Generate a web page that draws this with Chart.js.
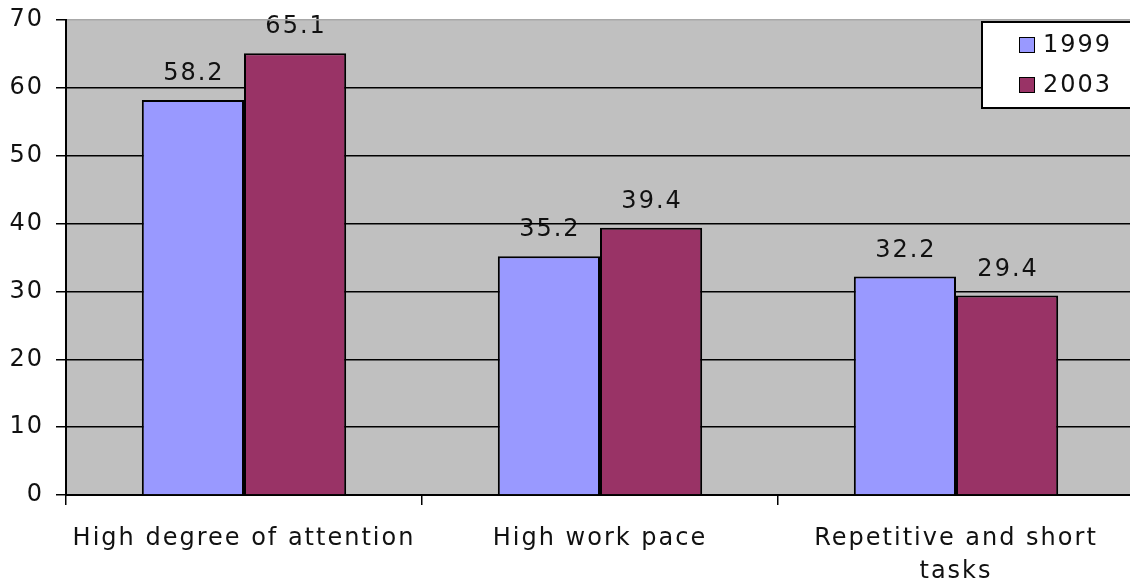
<!DOCTYPE html>
<html>
<head>
<meta charset="utf-8">
<script src="https://cdn.jsdelivr.net/npm/chart.js@4.4.1/dist/chart.umd.min.js"></script>
<style>
  html, body { margin: 0; padding: 0; background: #fff; overflow: hidden; }
  #wrap { width: 1134px; height: 586px; }
</style>
</head>
<body>
<div id="wrap"><canvas id="c"></canvas></div>
<script>
// Survey shares (%) of workers reporting each condition
const categories = ['High degree of attention', 'High work pace', ['Repetitive and short', 'tasks']];
const seriesNames = ['1999', '2003'];
const values1999 = [58.2, 35.2, 32.2];
const values2003 = [65.1, 39.4, 29.4];
const yTicks = [0, 10, 20, 30, 40, 50, 60, 70];

const colors = ['#9999FF', '#993366'];
const FONT = 'DejaVu Sans';
const SPACING = '2px';

Chart.defaults.font.family = FONT;
Chart.defaults.font.size = 24;
Chart.defaults.color = '#111';

// Wide, bitmap-like lettering for all canvas text
const spacingPlugin = {
  id: 'spacing',
  beforeUpdate(chart) { chart.ctx.letterSpacing = SPACING; },
  beforeLayout(chart) { chart.ctx.letterSpacing = SPACING; },
  beforeDraw(chart) { chart.ctx.letterSpacing = SPACING; }
};

// Grey plot area, then the value labels (gridlines are drawn over them)
const plotAreaPlugin = {
  id: 'plotArea',
  beforeDraw(chart) {
    const { ctx, chartArea: a } = chart;
    ctx.save();
    ctx.fillStyle = '#C0C0C0';
    ctx.fillRect(a.left, a.top, a.right - a.left, a.bottom - a.top);
    ctx.font = `24px "${FONT}"`;
    ctx.fillStyle = '#111';
    ctx.textAlign = 'center';
    ctx.textBaseline = 'alphabetic';
    chart.data.datasets.forEach((ds, i) => {
      chart.getDatasetMeta(i).data.forEach((bar, j) => {
        ctx.fillText(ds.data[j].toFixed(1), bar.x + 1, bar.y - 20);
      });
    });
    ctx.restore();
  }
};

// Boxed legend in the upper right corner
const boxLegendPlugin = {
  id: 'boxLegend',
  afterDraw(chart) {
    const { ctx } = chart;
    ctx.save();
    ctx.fillStyle = '#fff';
    ctx.fillRect(982, 22, 170, 86);
    ctx.strokeStyle = '#000';
    ctx.lineWidth = 2;
    ctx.strokeRect(982, 22, 170, 86);
    ctx.font = `24px "${FONT}"`;
    ctx.textAlign = 'left';
    ctx.textBaseline = 'middle';
    chart.data.datasets.forEach((ds, i) => {
      const cy = 45 + i * 40;
      ctx.fillStyle = ds.backgroundColor;
      ctx.fillRect(1019, cy - 8, 16, 16);
      ctx.lineWidth = 1;
      ctx.strokeRect(1019.5, cy - 7.5, 15, 15);
      ctx.fillStyle = '#111';
      ctx.fillText(ds.label, 1043, cy + 1);
    });
    ctx.restore();
  }
};

new Chart(document.getElementById('c'), {
  type: 'bar',
  data: {
    labels: categories,
    datasets: [
      { label: seriesNames[0], data: values1999, backgroundColor: colors[0], borderColor: '#000', borderWidth: 2 },
      { label: seriesNames[1], data: values2003, backgroundColor: colors[1], borderColor: '#000', borderWidth: 2 }
    ]
  },
  options: {
    responsive: true,
    maintainAspectRatio: false,
    animation: false,
    devicePixelRatio: 1,
    layout: { padding: { top: 20, right: 0, left: 0, bottom: 0 } },
    datasets: { bar: { categoryPercentage: 0.574, barPercentage: 1 } },
    plugins: { legend: { display: false }, tooltip: { enabled: false } },
    scales: {
      x: {
        grid: { offset: true, drawOnChartArea: false, color: '#000', tickLength: 10, lineWidth: 1.5 },
        border: { color: '#000', width: 2 },
        ticks: { padding: 17, maxRotation: 0, autoSkip: false, font: { size: 24, lineHeight: 1.375 }, color: '#111' },
        afterFit(s) { s.height = 91; s.paddingLeft = 0; s.paddingRight = 0; }
      },
      y: {
        min: 0,
        max: 70,
        afterBuildTicks(s) { s.ticks = yTicks.map(v => ({ value: v })); },
        grid: {
          color: c => (c.tick && c.tick.value === 70 ? '#A8A8A8' : '#000'),
          tickColor: '#000',
          tickLength: 10,
          lineWidth: 1.5
        },
        border: { color: '#000', width: 2 },
        ticks: { padding: 12, font: { size: 24 }, color: '#111' },
        afterFit(s) { s.width = 66; s.paddingTop = 0; s.paddingBottom = 0; }
      }
    }
  },
  plugins: [spacingPlugin, plotAreaPlugin, boxLegendPlugin]
});
</script>
</body>
</html>
